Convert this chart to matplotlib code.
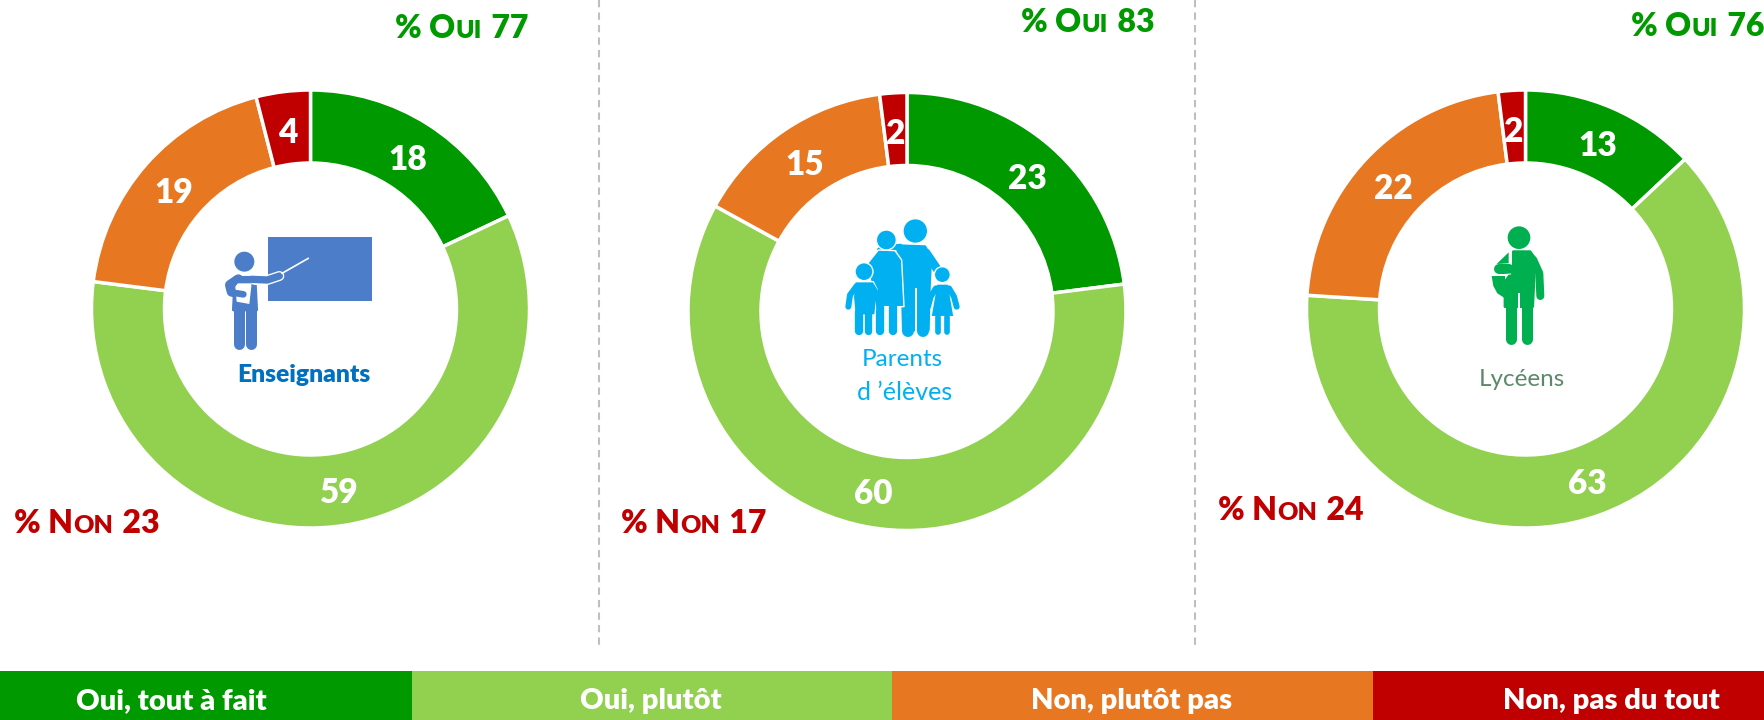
import matplotlib
matplotlib.use("Agg")
import matplotlib.pyplot as plt
from matplotlib.patches import Circle, Polygon, Rectangle

plt.rcParams['font.family'] = ['Lato', 'DejaVu Sans']

# data
enseignants = [18, 59, 19, 4]
parents = [23, 60, 15, 2]
lyceens = [13, 63, 22, 2]
oui_totals = [77, 83, 76]
non_totals = [23, 17, 24]
legend_labels = ["Oui, tout à fait", "Oui, plutôt", "Non, plutôt pas", "Non, pas du tout"]

colors = ["#009900", "#92D050", "#E87722", "#C00000"]
centers = [(310.5, 309), (907, 311.5), (1525.5, 309)]
oui_pos = [(395, 38), (1021, 32), (1631, 36)]
non_pos = [(14, 533), (621, 533), (1218, 520)]
legend_edges = [0, 412, 892, 1372.5, 1764]

H = 720
WEIGHT = 800
fig = plt.figure(figsize=(17.64, 7.2), dpi=100)
ax = fig.add_axes([0, 0, 1, 1])

for vals, (cx, cy) in zip([enseignants, parents, lyceens], centers):
    wedges, _, autotexts = ax.pie(vals, colors=colors, center=(cx, H - cy), radius=219,
                                  startangle=90, counterclock=False,
                                  autopct='%.0f', pctdistance=0.83,
                                  wedgeprops=dict(width=73, edgecolor='white', linewidth=2.5))
    for t in autotexts:
        x, y = t.get_position()
        t.set(color='white', fontsize=24, fontweight=WEIGHT, position=(x, y - 4))

ax.set_xlim(0, 1764)
ax.set_ylim(0, H)
ax.set_aspect('auto')
ax.axis('off')

# separators
for x in [598.5, 1195]:
    ax.plot([x, x], [H, H - 650], color='#BFBFBF', lw=1.5, ls=(0, (3.5, 2.5)))


def smallcaps(x, y, parts, color):
    # parts: (text, fontsize), placed one after another on the baseline
    r = fig.canvas.get_renderer()
    for i, (s, fs) in enumerate(parts):
        t = ax.text(x, H - y, s, color=color, fontsize=fs, fontweight=WEIGHT, va='baseline', ha='left')
        x = t.get_window_extent(r).x1 + (2 if i == 1 else 0)


for v, (x, y) in zip(oui_totals, oui_pos):
    smallcaps(x, y, [("% O", 23), ("UI", 18), (f"\u00a0{v}", 23)], "#009900")
for v, (x, y) in zip(non_totals, non_pos):
    smallcaps(x, y, [("% N", 23), ("ON", 18), (f"\u00a0{v}", 23)], "#C00000")

# legend band
for i, lab in enumerate(legend_labels):
    x0, x1 = legend_edges[i], legend_edges[i + 1]
    ax.add_patch(Rectangle((x0, 0), x1 - x0, H - 671, color=colors[i], lw=0))
centers_x = [171, 651, 1132, 1611]
for lab, x in zip(legend_labels, centers_x):
    ax.text(x, H - 701, lab, color='white', fontsize=21, fontweight=WEIGHT, ha='center', va='center')


def icon(x0, y0):
    # helpers working in the 3x zoom coordinates of each icon
    P = lambda x, y: (x0 + x / 3, H - (y0 + y / 3))

    def circle(x, y, r, c, z=3, ec=None):
        ax.add_patch(Circle(P(x, y), r / 3, fc=c, ec=ec or c, lw=1 if ec else 0, zorder=z))

    def poly(pts, c, z=3, ec=None, lw=None):
        ax.add_patch(Polygon([P(*p) for p in pts], closed=True, fc=c, ec=ec or c,
                             lw=(1 if ec else 0) if lw is None else lw, joinstyle='round', zorder=z))

    def stroke(pts, w, c, z=3):
        xs, ys = zip(*[P(*p) for p in pts])
        ax.plot(xs, ys, color=c, lw=w / 3 * 0.72, solid_capstyle='round', solid_joinstyle='round', zorder=z)

    return circle, poly, stroke


# teacher
c = "#4C7DC9"
circle, poly, stroke = icon(180, 200)
poly([(265, 110), (575, 110), (575, 303), (265, 303)], c, 2)
circle(193, 185, 30, c)
poly([(165, 232), (225, 232), (230, 330), (160, 330)], c, 3, None, 2)
stroke([(176, 320), (176, 432)], 33, c)
stroke([(214, 320), (214, 432)], 33, c)
stroke([(225, 240), (262, 240), (298, 228)], 30, 'white', 4)
stroke([(215, 238), (262, 240), (298, 228)], 22, c, 5)
stroke([(175, 238), (150, 255), (155, 275), (185, 282)], 30, c, 3)
poly([(165, 250), (215, 250), (208, 312), (170, 305)], 'white', 4)
stroke([(165, 245), (150, 262), (158, 278), (190, 283)], 20, c, 5)
stroke([(306, 220), (385, 175)], 5, 'white', 5)
ax.text(304, H - 375, "Enseignants", color="#0070C0", fontsize=17.7, fontweight=WEIGHT, ha='center', va='center')

# family
c = "#00B0F0"
circle, poly, stroke = icon(800, 200)
circle(346, 93, 35, c)
poly([(290, 137), (375, 140), (392, 175), (388, 265), (385, 390), (310, 390), (305, 200)], c, 3, None, 2)
stroke([(378, 158), (412, 208)], 26, c)
stroke([(325, 280), (325, 392)], 36, c)
stroke([(370, 280), (370, 392)], 36, c)
poly([(346, 265), (352, 265), (352, 405), (346, 405)], 'white', 3)
stroke([(240, 150), (300, 140)], 18, c)
circle(259, 120, 30, c, 4, 'white')
poly([(235, 150), (285, 152), (305, 180), (312, 320), (225, 320), (203, 190)], c, 4, 'white')
stroke([(240, 320), (240, 394)], 25, c, 4)
stroke([(280, 320), (280, 394)], 25, c, 4)
circle(192, 215, 27, c, 5, 'white')
poly([(165, 245), (220, 245), (232, 270), (225, 345), (165, 345), (160, 290)], c, 5, 'white')
stroke([(170, 258), (150, 285), (145, 320)], 18, c, 6)
stroke([(215, 258), (232, 285), (238, 323)], 18, c, 6)
stroke([(177, 335), (177, 394)], 25, c, 5)
stroke([(205, 335), (205, 394)], 22, c, 5)
circle(427, 224, 24, c, 5, 'white')
poly([(410, 252), (445, 252), (462, 350), (393, 350)], c, 5, 'white')
stroke([(408, 265), (392, 290), (384, 320)], 18, c, 6)
stroke([(447, 265), (462, 290), (470, 320)], 18, c, 6)
stroke([(413, 350), (413, 396)], 17, c, 5)
stroke([(440, 350), (440, 396)], 17, c, 5)
ax.text(902, H - 360, "Parents", color=c, fontsize=17.5, ha='center', va='center')
ax.text(905, H - 392, "d \u2019élèves", color=c, fontsize=18, ha='center', va='center')

# student
c = "#00B050"
circle, poly, stroke = icon(1440, 200)
circle(237, 113, 34, c)
poly([(220, 155), (270, 155), (285, 175), (278, 320), (195, 320), (195, 245), (220, 212)], c, 3, None, 2)
stroke([(280, 180), (298, 220), (301, 288)], 24, c)
stroke([(212, 320), (212, 418)], 33, c)
stroke([(260, 320), (260, 418)], 33, c)
poly([(235, 280), (240, 280), (240, 435), (235, 435)], 'white', 3)
poly([(155, 228), (160, 258), (172, 280), (195, 295), (195, 228)], c)
poly([(206, 157), (206, 190), (170, 192)], c)
stroke([(178, 207), (208, 207)], 30, c)
stroke([(160, 226), (212, 222)], 3, 'white', 4)
ax.text(1522, H - 380, "Lycéens", color="#5B8A6B", fontsize=17.5, ha='center', va='center')

fig.savefig("out.png", dpi=100)
